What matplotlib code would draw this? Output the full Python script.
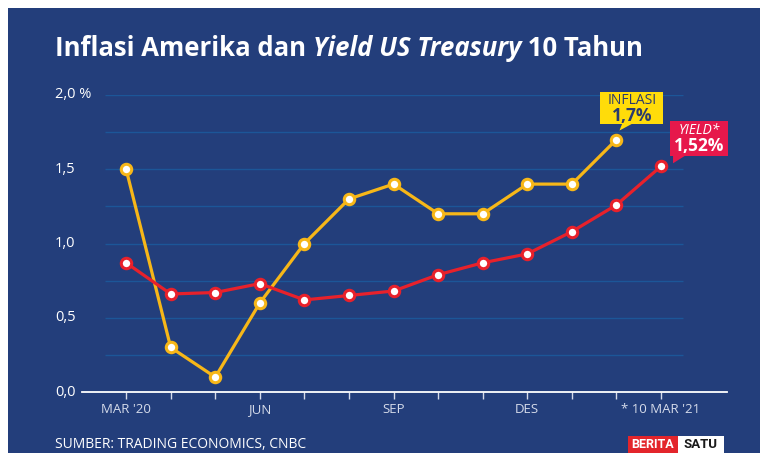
import matplotlib
matplotlib.use("Agg")
import matplotlib.pyplot as plt
from matplotlib.patches import Rectangle, Polygon
from matplotlib.transforms import IdentityTransform, blended_transform_factory

# ---- data ----
months_inflation = ["Mar 20", "Apr 20", "Mei 20", "Jun 20", "Jul 20", "Agu 20",
                    "Sep 20", "Okt 20", "Nov 20", "Des 20", "Jan 21", "Feb 21"]
inflation = [1.5, 0.3, 0.1, 0.6, 1.0, 1.3, 1.4, 1.2, 1.2, 1.4, 1.4, 1.7]
months_yield = months_inflation + ["10 Mar 21"]
yield_10y = [0.87, 0.66, 0.67, 0.73, 0.62, 0.65, 0.68, 0.79, 0.87, 0.93, 1.08, 1.26, 1.52]
xtick_pos = [0, 3, 6, 9, 12]
xtick_labels = ["MAR '20", "JUN", "SEP", "DES", "* 10 MAR '21"]
ytick_vals = [0.0, 0.5, 1.0, 1.5, 2.0]
ytick_labels = ["0,0", "0,5", "1,0", "1,5", "2,0 %"]
grid_vals = [0.25, 0.5, 0.75, 1.0, 1.25, 1.5, 1.75, 2.0]
title_parts = [("Inflasi Amerika dan ", "normal"), ("Yield US Treasury", "italic"), (" 10 Tahun", "normal")]

BG = "#233e7b"
YEL = "#f7b718"
RED = "#e8212b"
YBOX = "#ffdc0a"
RBOX = "#e6184b"
GRID = "#1c5698"
LABEL = "#d5dbea"
FONT = "Open Sans"

W, H = 760, 453
fig = plt.figure(figsize=(W / 100, H / 100), dpi=100)
fig.patch.set_facecolor("white")
fig.patches.append(Rectangle((8 / W, 0), 1 - 8 / W, 1 - 8 / H, transform=fig.transFigure,
                             facecolor=BG, edgecolor="none", zorder=-5))

def fx(px):
    return px / W

def fy(py):
    return 1 - py / H

ax = fig.add_axes([fx(82), fy(392), fx(727) - fx(82), fy(95) - fy(392)])
ax.set_zorder(1)
ax.set_facecolor("none")
ax.set_xlim(-0.99, 13.48)
ax.set_ylim(0, 2.0)

for s in ["top", "right", "left"]:
    ax.spines[s].set_visible(False)
ax.spines["bottom"].set_color("white")
ax.spines["bottom"].set_linewidth(1.3)
ax.set_yticks([])
ax.set_xticks(range(len(months_yield)))
ax.set_xticklabels([""] * len(months_yield))
ax.tick_params(axis="x", direction="out", length=5, width=1, color=LABEL, pad=6)

for g in grid_vals:
    ax.hlines(g, -0.47, 12.49, color=GRID, lw=1, zorder=1)

for p, lab in zip(xtick_pos, xtick_labels):
    ax.text(p, -0.075, lab, ha="center", va="top", color=LABEL, fontsize=9.5,
            family=FONT, clip_on=False)

ytr = blended_transform_factory(fig.transFigure, ax.transData)
for v, lab in zip(ytick_vals, ytick_labels):
    ax.text(fx(55), v, lab, transform=ytr, ha="left", va="center", color="white",
            fontsize=10.5, family=FONT)

xi = list(range(len(inflation)))
xy = list(range(len(yield_10y)))
ax.plot(xi, inflation, color=YEL, lw=2.3, marker="o", ms=7.5, mfc="white", mec=YEL,
        mew=2.2, zorder=3, clip_on=False)
ax.plot(xy, yield_10y, color=RED, lw=2.3, marker="o", ms=7.5, mfc="white", mec=RED,
        mew=2.2, zorder=4, clip_on=False)

# title
fig.canvas.draw()
renderer = fig.canvas.get_renderer()
x0 = fx(55)
for txt, style in title_parts:
    t = fig.text(x0, fy(48), txt, ha="left", va="center", color="white", fontsize=18.5,
                 fontweight="bold", fontstyle=style, family=FONT)
    bb = t.get_window_extent(renderer)
    x0 = bb.x1 / W

# callouts (in display pixels relative to the data point)
def callout(xd, yd, box, tip, base, color, lines):
    px, py = ax.transData.transform((xd, yd))
    l, r, b, t = box
    fig.patches.append(Rectangle((px + l, py + b), r - l, t - b, transform=IdentityTransform(),
                                 facecolor=color, edgecolor="none", zorder=5))
    fig.patches.append(Polygon([(px + base[0], py + b + 0.5), (px + tip[0], py + tip[1]),
                                (px + base[1], py + b + 0.5)], closed=True,
                               transform=IdentityTransform(), facecolor=color,
                               edgecolor="none", zorder=5))
    for (txt, dy, size, weight, style, col) in lines:
        fig.text((px + (l + r) / 2) / W, (py + dy) / H, txt, ha="center", va="center",
                 fontsize=size, fontweight=weight, fontstyle=style, color=col, family=FONT,
                 zorder=6)

callout(11, inflation[-1], (-16, 47, 16, 48), (3, 9), (6, 17), YBOX,
        [("INFLASI", 39, 10, "normal", "normal", "#2a3a6e"),
         ("1,7%", 24, 12.5, "bold", "normal", "#2a3a6e")])
callout(12, yield_10y[-1], (9, 67, 10, 45), (12, 3), (12, 24), RBOX,
        [("YIELD*", 36, 10, "normal", "italic", "white"),
         ("1,52%", 20, 12.5, "bold", "normal", "white")])

# footer
fig.text(fx(55), fy(444), "SUMBER: TRADING ECONOMICS, CNBC", ha="left", va="center",
         color="white", fontsize=10, family=FONT)
fig.patches.append(Rectangle((fx(628), 0), fx(678) - fx(628), fy(436), transform=fig.transFigure,
                             facecolor="#e3252b", edgecolor="none", zorder=5))
fig.patches.append(Rectangle((fx(678), 0), fx(724) - fx(678), fy(436), transform=fig.transFigure,
                             facecolor="white", edgecolor="none", zorder=5))
fig.text(fx(653), fy(444.5), "BERITA", ha="center", va="center", color="white", fontsize=9,
         fontweight="bold", family="Roboto", zorder=6)
fig.text(fx(701), fy(444.5), "SATU", ha="center", va="center", color="#1a1a1a", fontsize=9.5,
         fontweight="bold", family="Roboto", zorder=6)

fig.savefig("out.png", dpi=100, facecolor=fig.get_facecolor())
